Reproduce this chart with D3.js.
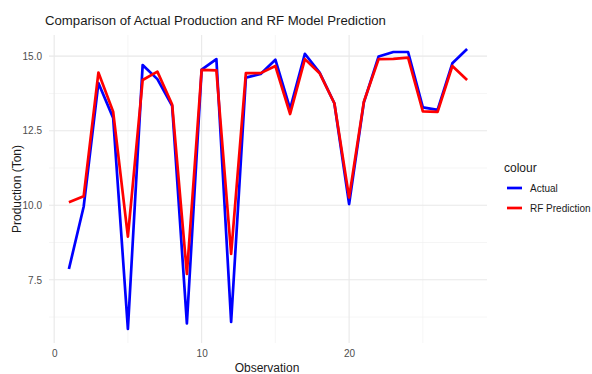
<!DOCTYPE html>
<html lang="en">
<head>
<meta charset="utf-8">
<title>Actual vs RF Prediction</title>
<script src="https://d3js.org/d3.v7.min.js"></script>
<style>
  body { margin: 0; background: #fff; }
  svg { font-family: "Liberation Sans", Arial, sans-serif; }
</style>
</head>
<body>
<script>
// observation index 1..28
const observations = d3.range(1, 29);
const actual = [7.86, 9.95, 14.1, 12.93, 5.85, 14.7, 14.23, 13.33, 6.04, 14.55,
                14.9, 6.09, 14.28, 14.4, 14.88, 13.23, 15.08, 14.45, 13.42, 10.04,
                13.45, 14.99, 15.14, 15.14, 13.28, 13.2, 14.76, 15.24];
const rfPrediction = [10.1, 10.3, 14.45, 13.14, 8.95, 14.2, 14.48, 13.38, 7.7, 14.54,
                      14.52, 8.37, 14.43, 14.43, 14.67, 13.06, 14.9, 14.43, 13.42, 10.26,
                      13.47, 14.9, 14.91, 14.95, 13.15, 13.13, 14.67, 14.2];
const seriesNames = ["Actual", "RF Prediction"];
const seriesColors = ["#0000ff", "#ff0000"];
const xTicks = [0, 10, 20];
const xMinor = [5, 15, 25];
const yTicks = [7.5, 10.0, 12.5, 15.0];
const yMinor = [6.25, 8.75, 11.25, 13.75];

const width = 592, height = 374;
const panel = { left: 49, right: 487, top: 35, bottom: 343 };

const svg = d3.select("body").append("svg")
    .attr("width", width)
    .attr("height", height);

// ggplot style 5% expansion
const xr = d3.extent(observations);
const xPad = (xr[1] - xr[0]) * 0.05;
const allY = actual.concat(rfPrediction);
const yr = d3.extent(allY);
const yPad = (yr[1] - yr[0]) * 0.05;

const x = d3.scaleLinear()
    .domain([xr[0] - xPad, xr[1] + xPad])
    .range([panel.left, panel.right]);
const y = d3.scaleLinear()
    .domain([yr[0] - yPad, yr[1] + yPad])
    .range([panel.bottom, panel.top]);

// grid
const grid = svg.append("g");
grid.selectAll(".xminor").data(xMinor).enter().append("line")
    .attr("x1", d => x(d)).attr("x2", d => x(d))
    .attr("y1", panel.top).attr("y2", panel.bottom)
    .attr("stroke", "#f1f1f1").attr("stroke-width", 0.7);
grid.selectAll(".yminor").data(yMinor).enter().append("line")
    .attr("y1", d => y(d)).attr("y2", d => y(d))
    .attr("x1", panel.left).attr("x2", panel.right)
    .attr("stroke", "#f1f1f1").attr("stroke-width", 0.7);
grid.selectAll(".xmajor").data(xTicks).enter().append("line")
    .attr("x1", d => x(d)).attr("x2", d => x(d))
    .attr("y1", panel.top).attr("y2", panel.bottom)
    .attr("stroke", "#e8e8e8").attr("stroke-width", 1.1);
grid.selectAll(".ymajor").data(yTicks).enter().append("line")
    .attr("y1", d => y(d)).attr("y2", d => y(d))
    .attr("x1", panel.left).attr("x2", panel.right)
    .attr("stroke", "#e8e8e8").attr("stroke-width", 1.1);

// axes (text only, like theme_minimal)
const xAxis = d3.axisBottom(x).tickValues(xTicks).tickSize(0).tickPadding(5).tickFormat(d3.format("d"));
const gx = svg.append("g")
    .attr("transform", `translate(0,${panel.bottom + 2})`)
    .call(xAxis);
const yAxis = d3.axisLeft(y).tickValues(yTicks).tickSize(0).tickPadding(5).tickFormat(d3.format(".1f"));
const gy = svg.append("g")
    .attr("transform", `translate(${panel.left - 2},0)`)
    .call(yAxis);
[gx, gy].forEach(g => {
  g.select(".domain").remove();
  g.selectAll("text").attr("fill", "#4d4d4d").style("font-size", "10px");
});

// lines
const series = [actual, rfPrediction];
const line = d3.line()
    .x((d, i) => x(observations[i]))
    .y(d => y(d));
svg.selectAll(".series").data(series).enter().append("path")
    .attr("d", line)
    .attr("fill", "none")
    .attr("stroke", (d, i) => seriesColors[i])
    .attr("stroke-width", 2.7)
    .attr("stroke-linejoin", "round");

// title and labels
svg.append("text")
    .attr("x", 45).attr("y", 25)
    .style("font-size", "13.2px")
    .attr("fill", "#1a1a1a")
    .text("Comparison of Actual Production and RF Model Prediction");

svg.append("text")
    .attr("x", 267).attr("y", 372)
    .attr("text-anchor", "middle")
    .style("font-size", "12px")
    .attr("fill", "#1a1a1a")
    .text("Observation");

svg.append("text")
    .attr("transform", `translate(21,${(panel.top + panel.bottom) / 2}) rotate(-90)`)
    .attr("text-anchor", "middle")
    .style("font-size", "12px")
    .attr("fill", "#1a1a1a")
    .text("Production (Ton)");

// legend
const legend = svg.append("g").attr("transform", "translate(504,0)");
legend.append("text")
    .attr("x", 0).attr("y", 172)
    .style("font-size", "12px")
    .attr("fill", "#1a1a1a")
    .text("colour");
const items = legend.selectAll(".item").data(seriesNames).enter().append("g")
    .attr("transform", (d, i) => `translate(0,${188 + i * 20})`);
items.append("line")
    .attr("x1", 3).attr("x2", 18)
    .attr("stroke", (d, i) => seriesColors[i])
    .attr("stroke-width", 2.7);
items.append("text")
    .attr("x", 26).attr("y", 4)
    .style("font-size", "10px")
    .attr("fill", "#1a1a1a")
    .text(d => d);
</script>
</body>
</html>
